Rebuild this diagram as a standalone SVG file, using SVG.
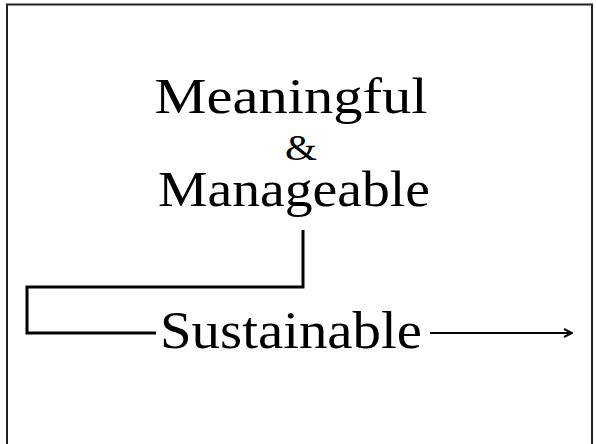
<svg xmlns="http://www.w3.org/2000/svg" width="596" height="444" viewBox="0 0 596 444">
<style>
  .t { font-family: "Liberation Serif", "DejaVu Serif", serif; fill: #000; text-anchor: middle; }
  .c { fill: none; stroke: #000; stroke-linecap: butt; stroke-linejoin: miter; }
</style>
<defs>
  <marker id="ah" viewBox="0 0 10 10" refX="9" refY="5" markerWidth="10" markerHeight="10" markerUnits="userSpaceOnUse" orient="auto">
    <path d="M1,1 L9,5 L1,9" fill="none" stroke="#000" stroke-width="2"/>
  </marker>
</defs>
<rect x="0" y="0" width="596" height="444" fill="#fff"/>
<rect id="frame" x="7" y="4.5" width="585" height="460" fill="none" stroke="#222" stroke-width="2"/>
<g id="meaningful">
  <text class="t" x="291" y="113" font-size="51" textLength="273" lengthAdjust="spacingAndGlyphs">Meaningful</text>
</g>
<g id="amp">
  <text class="t" x="301" y="160" font-size="35" textLength="32" lengthAdjust="spacingAndGlyphs">&amp;</text>
</g>
<g id="manageable">
  <text class="t" x="294" y="206" font-size="51" textLength="272" lengthAdjust="spacingAndGlyphs">Manageable</text>
</g>
<g id="sustainable">
  <text class="t" x="291" y="348" font-size="53" textLength="262" lengthAdjust="spacingAndGlyphs">Sustainable</text>
</g>
<g id="connectors">
  <path class="c" d="M303,230 V287 H27 V333 H156" stroke-width="3"/>
  <path class="c" d="M430,333 H572" stroke-width="2" marker-end="url(#ah)"/>
</g>
</svg>
